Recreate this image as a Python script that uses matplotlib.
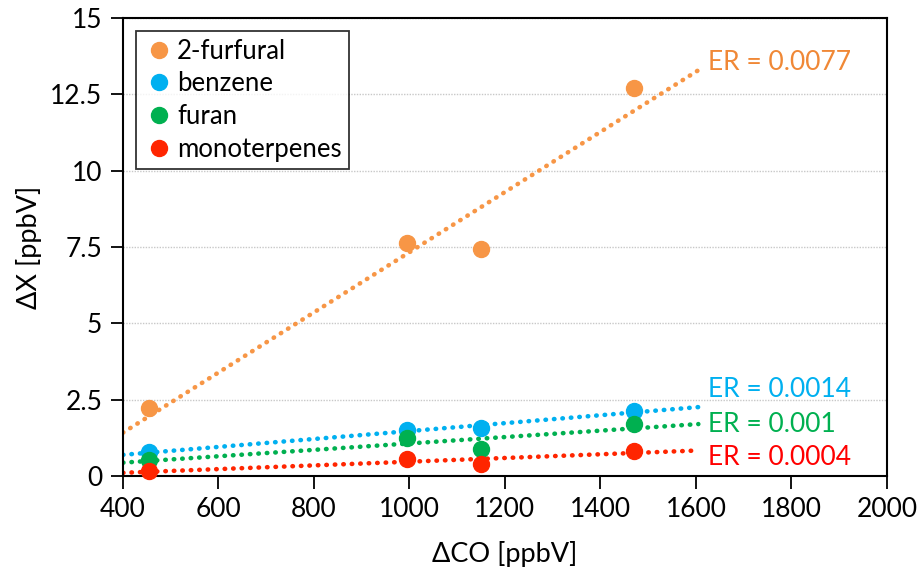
import numpy as np
import matplotlib
matplotlib.use("Agg")
import matplotlib.pyplot as plt

plt.rcParams['font.family'] = ['Lato', 'DejaVu Sans']

# delta CO [ppbV] for the four plumes
dco = [455, 995, 1150, 1470]

names = ['2-furfural', 'benzene', 'furan', 'monoterpenes']
values = {
    '2-furfural':   [2.23, 7.63, 7.44, 12.71],
    'benzene':      [0.78, 1.50, 1.57, 2.13],
    'furan':        [0.52, 1.24, 0.88, 1.70],
    'monoterpenes': [0.15, 0.55, 0.40, 0.82],
}
er_labels = ['ER = 0.0077', 'ER = 0.0014', 'ER = 0.001', 'ER = 0.0004']
er_label_y = [13.55, 2.82, 1.70, 0.62]

colors = ['#F79646', '#00B0F0', '#00B050', '#FF2500']
text_colors = ['#F08836', '#00B0F0', '#00B050', '#FF0000']

fig = plt.figure(figsize=(9.2, 5.74), dpi=100)
ax = fig.add_axes([0.1337, 0.1707, 0.964 - 0.1337, 0.9686 - 0.1707])

xfit = np.array([400, 1605])
for i, name in enumerate(names):
    y = values[name]
    k, b = np.polyfit(dco, y, 1)
    ax.plot(xfit, k * xfit + b, color=colors[i], lw=3.3,
            linestyle=(0, (0.1, 1.75)), dash_capstyle='round', zorder=2)
for i, name in enumerate(names):
    ax.plot(dco, values[name], 'o', color=colors[i], markersize=11.5,
            label=name, zorder=3, clip_on=False)
for i in range(4):
    ax.text(1625, er_label_y[i], er_labels[i], color=text_colors[i],
            fontsize=19, va='center', ha='left')

ax.set_xlim(400, 2000)
ax.set_ylim(0, 15)
ax.set_xticks(np.arange(400, 2001, 200))
ax.set_yticks([0, 2.5, 5, 7.5, 10, 12.5, 15])
ax.set_yticklabels(['0', '2.5', '5', '7.5', '10', '12.5', '15'])
ax.tick_params(direction='out', length=9, width=1.3, labelsize=19, colors='black', pad=6)
ax.yaxis.grid(True, color='#C8C8C8', linestyle=(0, (1, 1)), lw=1)
ax.set_axisbelow(True)
for s in ax.spines.values():
    s.set_linewidth(1.5)
    s.set_color('black')

ax.set_xlabel('ΔCO [ppbV]', fontsize=19.5, labelpad=14)
ax.set_ylabel('ΔX [ppbV]', fontsize=19.5, labelpad=6)

leg = ax.legend(loc='upper left', fontsize=18.5, frameon=True, fancybox=False,
                handletextpad=0.1, handlelength=1.2, borderpad=0.3,
                labelspacing=0.3, borderaxespad=0.5, markerscale=1.0)
leg.get_frame().set_edgecolor('black')
leg.get_frame().set_linewidth(1.3)

fig.savefig('out.png', dpi=100)
